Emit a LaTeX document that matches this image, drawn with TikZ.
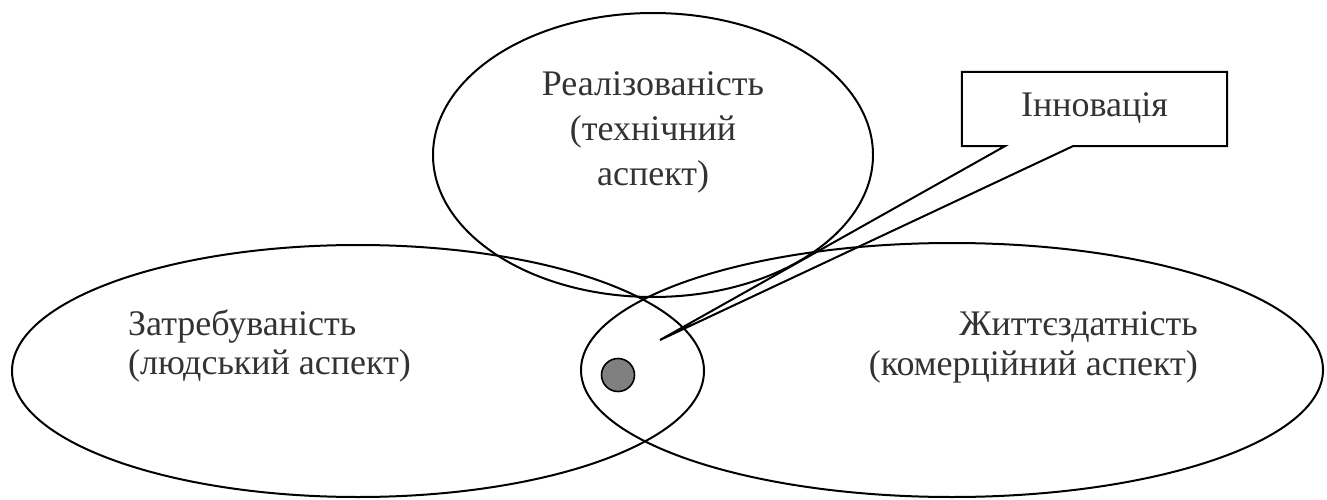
\documentclass[tikz,border=0pt]{standalone}
\usepackage{fontspec}
\setmainfont{Liberation Serif}
\usetikzlibrary{calc}
\begin{document}
\begin{tikzpicture}[x=1pt,y=-1pt,
  shape line/.style={line width=2pt, black},
  label text/.style={font=\fontsize{36}{41}\selectfont, text=black!80, inner sep=0pt},
  dot/.style={circle, draw=black, line width=1.6pt, fill=black!50, minimum size=33pt, inner sep=0pt}]
\useasboundingbox (0,0) rectangle (1327,500);
% ellipses
\draw[shape line] (653,155) ellipse [x radius=220pt, y radius=142pt];
\draw[shape line] (358,371) ellipse [x radius=346pt, y radius=126pt];
\draw[shape line] (952,370) ellipse [x radius=371pt, y radius=127pt];
% labels
\node[label text, align=center, font=\fontsize{36}{45}\selectfont] (real) at (653,132) {Реалізованість\\(технічний\\аспект)};
\node[label text, align=left, anchor=west, font=\fontsize{36}{39}\selectfont] (zatr) at (128,346) {Затребуваність\\(людський аспект)};
\node[label text, align=right, anchor=east, font=\fontsize{36}{40}\selectfont] (zhytt) at (1198,347) {Життєздатність\\(комерційний аспект)};
% small circle
\node[dot] (inn) at (618,375) {};
% callout
\node[minimum width=265pt, minimum height=74pt, inner sep=0pt] (box) at (1094.5,109) {};
\node[label text, anchor=base] (innt) at (1094.5,117) {Інновація};
\coordinate (tip) at (660,340);
\draw[shape line, line join=miter] (box.south west) -- (box.north west) -- (box.north east) -- (box.south east)
  -- ($(box.south west)+(111,0)$) -- (tip) -- ($(box.south west)+(43,0)$) -- cycle;
\end{tikzpicture}
\end{document}
